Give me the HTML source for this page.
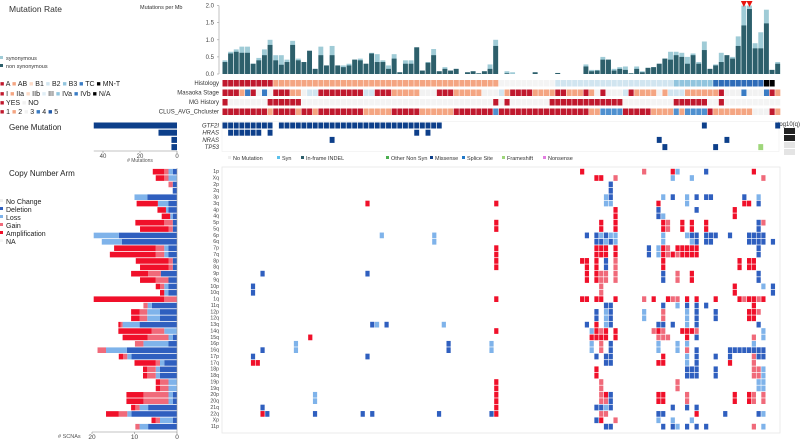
<!DOCTYPE html>
<html><head><meta charset="utf-8"><style>
html,body{margin:0;padding:0;background:#fff;}
svg{display:block;font-family:"Liberation Sans",sans-serif;}
</style></head><body>
<svg id="c" width="800" height="439" viewBox="0 0 800 439" xmlns="http://www.w3.org/2000/svg">
<g font-size="6" fill="#333">
<text x="9" y="12" font-size="8.5">Mutation Rate</text>
<text x="140" y="9" font-size="5.5">Mutations per Mb</text>
<rect x="0" y="56" width="3" height="3" fill="#9fcbd6"/>
<text x="6" y="60" font-size="5.5">synonymous</text>
<rect x="0" y="64" width="3" height="3" fill="#2d5f6b"/>
<text x="6" y="68" font-size="5.5">non synonymous</text>
</g>
<g font-size="7" fill="#222">
<text x="0" y="86"><tspan fill="#c0192e">■</tspan> A <tspan fill="#f4a582">■</tspan> AB <tspan fill="#fddbc7">■</tspan> B1 <tspan fill="#d1e5f0">■</tspan> B2 <tspan fill="#92c5de">■</tspan> B3 <tspan fill="#3a7cc4">■</tspan> TC <tspan fill="#000">■</tspan> MN-T</text>
<text x="0" y="96"><tspan fill="#c0192e">■</tspan> I <tspan fill="#f4a582">■</tspan> IIa <tspan fill="#fddbc7">■</tspan> IIb <tspan fill="#e0eef6">■</tspan> III <tspan fill="#92c5de">■</tspan> IVa <tspan fill="#3a7cc4">■</tspan> IVb <tspan fill="#000">■</tspan> N/A</text>
<text x="0" y="105"><tspan fill="#c0192e">■</tspan> YES <tspan fill="#f2f2f2">■</tspan> NO</text>
<text x="0" y="114"><tspan fill="#c0192e">■</tspan> 1 <tspan fill="#f4a582">■</tspan> 2 <tspan fill="#f2f2f2">■</tspan> 3 <tspan fill="#3a7cc4">■</tspan> 4 <tspan fill="#2159a8">■</tspan> 5</text>
<text x="9" y="130" font-size="8">Gene Mutation</text>
<text x="9" y="176" font-size="8">Copy Number Arm</text>
</g>
<g font-size="7" fill="#222">
<rect x="0" y="199" width="3" height="3" fill="#eee"/><text x="6" y="204">No Change</text>
<rect x="0" y="207" width="3" height="3" fill="#2f5fbf"/><text x="6" y="212">Deletion</text>
<rect x="0" y="215" width="3" height="3" fill="#7fb3ea"/><text x="6" y="220">Loss</text>
<rect x="0" y="223" width="3" height="3" fill="#f06a7a"/><text x="6" y="228">Gain</text>
<rect x="0" y="231" width="3" height="3" fill="#f0102a"/><text x="6" y="236">Amplification</text>
<rect x="0" y="239" width="3" height="3" fill="#f6f6f6"/><text x="6" y="244">NA</text>
</g>
<g font-size="5.5" fill="#333">
<rect x="228" y="156" width="3" height="3" fill="#eee"/><text x="233" y="160">No Mutation</text>
<rect x="277" y="156" width="3" height="3" fill="#5bc0eb"/><text x="282" y="160">Syn</text>
<rect x="301" y="156" width="3" height="3" fill="#2d5f6b"/><text x="306" y="160">In-frame INDEL</text>
<rect x="386" y="156" width="3" height="3" fill="#4caf50"/><text x="391" y="160">Other Non Syn</text>
<rect x="430" y="156" width="3" height="3" fill="#0d3f8a"/><text x="435" y="160">Missense</text>
<rect x="462" y="156" width="3" height="3" fill="#1f78c8"/><text x="467" y="160">Splice Site</text>
<rect x="502" y="156" width="3" height="3" fill="#9ed67a"/><text x="507" y="160">Frameshift</text>
<rect x="543" y="156" width="3" height="3" fill="#e27de0"/><text x="548" y="160">Nonsense</text>
</g>
<g>
<text x="776" y="126" font-size="6" fill="#333">-log10(q)</text>
<rect x="784" y="128" width="11" height="6" fill="#222"/>
<rect x="784" y="135" width="11" height="6" fill="#222"/>
<rect x="784" y="142" width="11" height="6" fill="#e4e4e4"/>
<rect x="784" y="149" width="11" height="6" fill="#e4e4e4"/>
</g>
<g id="dyn"></g>
</svg>
<script>
// ---- mutation rate data (per sample) ----
const nonSynRate=[.35,.6,.65,.62,.62,.3,.4,.55,.85,.4,.27,.35,.85,.4,.35,.68,.15,.55,.25,.55,.25,.2,.25,.42,.4,.3,.6,.35,.35,.15,.45,.05,.3,.3,.78,.1,.33,.55,.08,.15,.1,.15,0,.05,.08,.02,.08,.15,.82,0,.02,0,0,0,0,.05,0,0,0,.03,0,0,0,0,.22,.08,.1,.42,.42,.1,.15,.12,.02,.15,.05,.18,.2,.3,.45,.42,.55,.5,.3,.55,.3,.7,.15,.25,.35,.55,.45,.82,1.42,1.9,.75,.75,1.48,.12,.3];
const totalRate=[.4,.65,.72,.8,.8,.3,.47,.72,1,.55,.55,.42,.97,.45,.35,.68,.15,.8,.25,.82,.25,.25,.3,.42,.45,.3,.62,.58,.4,.25,.58,.05,.4,.4,.78,.1,.35,.73,.08,.2,.1,.15,0,.05,.08,.02,.08,.28,1,0,.08,.05,0,0,0,.05,0,0,0,.03,0,0,0,0,.28,.12,.12,.5,.42,.15,.2,.22,.02,.22,.08,.18,.2,.3,.45,.65,.65,.62,.5,.6,.35,.95,.15,.28,.62,.55,.5,1.1,2.0,2.0,.9,1.22,1.88,.12,.35];
const rateTicks=[0,0.5,1.0,1.5,2.0];
const markedSamples=[92,93];
// ---- clinical tracks ----
const histology="AAAAAAAAAMMMMMMMMMMMMMMMMMMMMMMMMMMMMMMMMMMMMMMMM11111111112222222222222222222223333333TTTTTTTTTKK".split("");
const masaoka="RRRSBRWBWRRRSSWLLRRRRRRRRLLRRRSSSSSWWWRRRSSSSSWWWLSRRRRSSSSRRSSSRSWRWWWLRSSSSWSLLLSSSSSSRWWWBWWWBRS".split("");
const mgHistory="YNNNNNNNYYYYYYNNNNNNNNNNNNNNNNNNNNNNNNNNNNNNNNNNYNYNNNNNNNYYYYYYYYYYYYYNNNNNNNNNYYYYYYNNYNNNNNNNNNN".split("");
const cluster="RRRRRRRRSRRRRSRRSRRRRRRRRSSSSSRRRRRSSSSSSRRRRRRRBRRRRRRRRRRRRRRRRSSBBBBRRRRRSSSSBSBBBBRSSSSSSSWWWRS".split("");
// ---- gene mutations ----
const genes=["GTF2I","HRAS","NRAS","TP53"];
const geneCounts=[45,10,3,3];
const gtf2iSamples=[0,1,2,3,4,5,6,7,8,10,11,12,13,14,15,16,17,18,19,20,21,22,23,24,25,26,27,28,29,30,31,32,33,34,35,36,37,38,85,98];
const hrasSamples=[1,2,3,4,5,6,8,34,36];
const nrasSamples=[19,77,89];
const tp53Samples=[78,87];
const tp53Frameshift=[95];
const geneTicks=[40,20,0];
// ---- copy number arms ----
const arms=["1p","Xq","2p","2q","3p","3q","4p","4q","5p","5q","6p","6q","7p","7q","8p","8q","9p","9q","10p","10q","1q","11q","12p","12q","13q","14q","15q","16p","16q","17p","17q","18p","18q","19p","19q","20p","20q","21q","22q","Xp","11p"];
const delCount=[1,0,1,1,7,2,2,1,1,1,13.7,13,2,2,1,1,3.8,2,2,2,0,5.9,4,4,8.8,0,1,2,11.8,10.7,3,4,4,0,0,1,1,6.8,10.7,1,6.8];
const lossCount=[1,2,0,0,3,2.5,.6,.6,0,0,5.9,4.7,1,1,0,0,0,0,1,1,0,1,3,3,4,3,1,5.9,4.9,1,1,1,1,2,2,1,1,2,1,3,2];
const gainCount=[1,1,1,0,0,0,0,0,2,1,0,0,2,2,1,1,3,3,1,0,3,1,1.8,1.8,.5,3,4.9,2,2,1,1,2,2,2,2,5.9,5.9,1,2,1,1];
const ampCount=[2.7,2,0,0,0,5,2,2,6.8,6.7,0,0,9.8,10.8,7.7,6.7,4,3.7,1,1,16.6,0,2,2,.5,7.8,5.9,0,0,1,5,1,1,1,1,4,4,1,3,1,0];
const scnaTicks=[20,10,0];
// heatmap cells [row, sample]
const delCells=[[0,101],[2,81],[3,81],[4,81],[4,94],[4,99],[4,101],[4,102],[4,109],[5,112],[6,91],[6,99],[7,91],[8,112],[9,112],[10,76],[10,78],[10,80],[10,98],[10,99],[10,101],[10,102],[10,103],[10,106],[10,110],[10,111],[10,112],[10,113],[11,78],[11,79],[11,81],[11,99],[11,101],[11,102],[11,110],[11,111],[11,112],[11,113],[11,115],[12,89],[12,112],[13,89],[13,112],[14,80],[15,80],[16,92],[16,112],[16,8],[16,30],[17,92],[17,112],[18,115],[18,6],[19,115],[19,6],[21,80],[21,81],[21,92],[21,97],[21,99],[21,101],[22,78],[22,81],[22,99],[22,103],[23,78],[23,81],[23,99],[23,103],[24,76],[24,81],[24,91],[24,92],[24,94],[24,99],[24,112],[24,31],[24,34],[26,99],[27,81],[27,47],[28,81],[28,99],[28,106],[28,107],[28,108],[28,109],[28,110],[28,111],[28,112],[28,113],[28,8],[28,47],[29,78],[29,80],[29,81],[29,99],[29,103],[29,106],[29,112],[29,113],[29,6],[29,30],[30,80],[30,81],[30,99],[31,97],[31,98],[31,99],[31,103],[32,97],[32,98],[32,99],[32,103],[35,81],[36,81],[37,78],[37,79],[37,81],[37,94],[37,97],[37,99],[37,8],[38,91],[38,92],[38,105],[38,112],[38,9],[38,19],[38,29],[38,31],[38,45],[38,56],[39,78],[40,80],[40,81],[40,92],[40,94],[40,97],[40,99],[40,101]];
const lossCells=[[0,95],[1,94],[1,98],[4,80],[4,92],[4,97],[4,112],[5,80],[5,81],[5,97],[7,92],[10,79],[10,81],[10,82],[10,92],[10,97],[10,33],[10,44],[11,80],[11,82],[11,92],[11,98],[11,44],[12,91],[13,91],[18,113],[21,95],[22,80],[22,88],[22,97],[23,80],[23,88],[23,97],[24,80],[24,97],[24,32],[24,46],[25,77],[25,113],[26,113],[27,77],[27,91],[27,95],[27,97],[27,111],[27,15],[27,56],[28,77],[28,91],[28,95],[28,15],[28,56],[29,97],[30,97],[31,113],[32,113],[33,112],[33,113],[34,112],[34,113],[35,19],[36,19],[37,80],[38,113],[39,91],[39,94],[39,98],[40,95],[40,113]];
const gainCells=[[0,88],[1,82],[1,113],[8,93],[8,113],[9,93],[12,93],[13,93],[13,95],[14,82],[15,82],[16,79],[16,80],[16,82],[16,95],[17,79],[17,80],[17,82],[17,95],[18,79],[19,79],[20,88],[20,94],[20,95],[20,109],[20,112],[22,92],[22,112],[23,92],[25,79],[25,90],[25,92],[25,99],[26,91],[26,92],[26,93],[26,111],[27,79],[28,79],[28,97],[29,111],[30,111],[31,111],[31,112],[32,111],[32,112],[33,79],[33,95],[34,79],[34,95],[35,79],[35,97],[35,111],[35,113],[36,79],[36,80],[36,97],[36,111],[36,113],[38,79],[38,80],[39,82],[40,111]];
const ampCells=[[0,75],[0,94],[0,111],[1,78],[1,79],[5,91],[5,109],[5,110],[5,30],[5,57],[6,82],[6,107],[7,82],[7,107],[8,79],[8,82],[8,92],[8,96],[8,98],[8,101],[8,57],[9,79],[9,82],[9,92],[9,96],[9,98],[9,101],[9,57],[12,78],[12,79],[12,80],[12,82],[12,92],[12,95],[12,96],[12,97],[12,98],[12,99],[12,57],[13,78],[13,79],[13,80],[13,82],[13,92],[13,94],[13,96],[13,97],[13,98],[13,99],[13,57],[14,75],[14,76],[14,78],[14,92],[14,108],[14,110],[14,111],[14,57],[15,76],[15,78],[15,92],[15,108],[15,110],[15,111],[15,57],[16,76],[16,78],[16,98],[17,76],[17,78],[17,98],[18,107],[19,107],[20,75],[20,76],[20,78],[20,79],[20,82],[20,90],[20,93],[20,97],[20,99],[20,103],[20,108],[20,110],[20,111],[20,113],[20,57],[21,111],[22,110],[22,111],[23,110],[23,111],[24,78],[25,78],[25,80],[25,82],[25,91],[25,96],[25,97],[25,98],[25,57],[26,77],[26,78],[26,79],[26,80],[26,82],[26,97],[26,18],[29,92],[30,91],[30,92],[30,106],[30,6],[30,7],[31,78],[32,78],[33,57],[34,57],[35,80],[35,91],[35,92],[35,107],[35,110],[35,57],[36,91],[36,92],[36,107],[36,110],[36,57],[37,57],[38,99],[38,8],[38,57],[39,79]];

const NS="http://www.w3.org/2000/svg";
const root=document.getElementById("dyn");
function mk(tag,attrs,parent){const e=document.createElementNS(NS,tag);for(const k in attrs)e.setAttribute(k,attrs[k]);(parent||root).appendChild(e);return e;}
function grp(name){const g=mk("g",{});return g;}

// scales
const sx=i=>222.5+i*5.64;          // sample -> x (top section)
const CW=4.9;
const ry=v=>74-v*34.2;             // rate -> y
const hx=i=>222+i*4.77;            // heatmap sample -> x
const hy=r=>168.5+r*6.375;         // arm row -> y
const cx=v=>177-v*4.25;            // SCNA count -> x
const gx=v=>177-v*1.85;            // gene count -> x

// mutation rate axis
const ax=grp("rate-y-axis");
mk("line",{x1:219,y1:ry(0),x2:219,y2:ry(2),stroke:"#999","stroke-width":.6},ax);
rateTicks.forEach(t=>{mk("line",{x1:217,x2:219,y1:ry(t),y2:ry(t),stroke:"#999","stroke-width":.6},ax);
 const tx=mk("text",{x:214,y:ry(t)+2,"font-size":6,"text-anchor":"end",fill:"#444"},ax);tx.textContent=t.toFixed(1);
 });
const bars=grp("mutation-rate-bars");
totalRate.forEach((v,i)=>{
 const b=mk("rect",{x:sx(i),y:ry(v),width:CW,height:ry(0)-ry(v),fill:"#9fcbd6"},bars);
 
 const n=nonSynRate[i];
 const d=mk("rect",{x:sx(i),y:ry(n),width:CW,height:ry(0)-ry(n),fill:"#2d5f6b"},bars);
 
});
markedSamples.forEach(i=>{const p=mk("path",{d:`M${sx(i)-0.5} 1 L${sx(i)+5.5} 1 L${sx(i)+2.5} 7 Z`,fill:"#e8140e"},bars);
 });

// clinical tracks
const palH={A:"#c0192e",M:"#f4a582","1":"#f4f4f4","2":"#d1e5f0","3":"#92c5de",T:"#2f6cb8",K:"#000"};
const palM={R:"#c0192e",S:"#f4a582",P:"#fddbc7",W:"#f2f2f2",L:"#d1e5f0",B:"#3a7cc4",K:"#000"};
const palY={Y:"#c0192e",N:"#f4f4f4"};
const palC={R:"#c0192e",S:"#f4a582",W:"#f2f2f2",B:"#4f90cf"};
const tracks=[["Histology",histology,palH,80],["Masaoka Stage",masaoka,palM,89.5],["MG History",mgHistory,palY,99],["CLUS_AVG_Chcluster",cluster,palC,108.5]];
tracks.forEach(([lab,arr,pal,y])=>{
 const g=grp("track-"+lab.toLowerCase().replace(/[^a-z]+/g,"-"));
 const t=mk("text",{x:219,y:y+5,"font-size":6,"text-anchor":"end",fill:"#333"},g);t.textContent=lab;
 
 arr.forEach((c,i)=>{const r=mk("rect",{x:sx(i),y:y,width:CW+0.2,height:6.5,fill:pal[c]||"#f2f2f2"},g);
  });
});

// gene mutation
const gg=grp("gene-mutation-panel");
mk("rect",{x:222,y:121.5,width:557,height:30,fill:"none",stroke:"#eee","stroke-width":.6},gg);
const geneRows=[gtf2iSamples,hrasSamples,nrasSamples,tp53Samples];
genes.forEach((gname,k)=>{
 const y=122.5+k*7.2;
 const t=mk("text",{x:219,y:y+5,"font-size":6,"text-anchor":"end","font-style":"italic",fill:"#333"},gg);t.textContent=gname;
 
 const b=mk("rect",{x:gx(geneCounts[k]),y:y,width:gx(0)-gx(geneCounts[k]),height:6,fill:"#0d3f8a"},gg);
 
 geneRows[k].forEach(i=>{const r=mk("rect",{x:sx(i),y:y,width:CW,height:6,fill:"#0d3f8a"},gg);
  });
});
tp53Frameshift.forEach(i=>{const r=mk("rect",{x:sx(i),y:122.5+3*7.2,width:CW,height:6,fill:"#9ed67a"},gg);
 });
mk("line",{x1:gx(45),x2:gx(0),y1:151,y2:151,stroke:"#888","stroke-width":.6},gg);
geneTicks.forEach(t=>{mk("line",{x1:gx(t),x2:gx(t),y1:151,y2:153,stroke:"#888","stroke-width":.6},gg);
 const tx=mk("text",{x:gx(t),y:158,"font-size":6,"text-anchor":"middle",fill:"#444"},gg);tx.textContent=t;
 });
const gl=mk("text",{x:140,y:162,"font-size":5,"text-anchor":"middle",fill:"#555"},gg);gl.textContent="# Mutations";


// SCNA bars
const sg=grp("scna-bar-chart");
arms.forEach((a,r)=>{
 let acc=0;const y=hy(r)+.4;
 [[delCount,"#2f5fbf"],[lossCount,"#7fb3ea"],[gainCount,"#f06a7a"],[ampCount,"#f0102a"]].forEach(([arr,col])=>{
  const v=arr[r];if(v>0){const b=mk("rect",{x:cx(acc+v),y:y,width:cx(acc)-cx(acc+v),height:5.6,fill:col},sg);
  }acc+=v;});
});
mk("line",{x1:cx(20),x2:cx(0),y1:432,y2:432,stroke:"#888","stroke-width":.6},sg);
mk("line",{x1:cx(0),x2:cx(0),y1:168,y2:432,stroke:"#999","stroke-width":.6},sg);
scnaTicks.forEach(t=>{mk("line",{x1:cx(t),x2:cx(t),y1:432,y2:434,stroke:"#888","stroke-width":.6},sg);
 const tx=mk("text",{x:cx(t),y:439,"font-size":6.5,"text-anchor":"middle",fill:"#444"},sg);tx.textContent=t;
 });
const st=mk("text",{x:58,y:438,"font-size":5.5,fill:"#555"},sg);st.textContent="# SCNAs";


// heatmap
const hg=grp("copy-number-heatmap");
mk("rect",{x:222,y:167,width:558,height:266,fill:"none",stroke:"#e6e6e6","stroke-width":.8},hg);
arms.forEach((a,r)=>{const t=mk("text",{x:219,y:hy(r)+4.6,"font-size":5.2,"text-anchor":"end",fill:"#444"},hg);t.textContent=a;
 });
[[delCells,"#2f5fbf","deletion-cell"],[lossCells,"#7fb3ea","loss-cell"],[gainCells,"#f06a7a","gain-cell"],[ampCells,"#f0102a","amplification-cell"]].forEach(([cells,col,nm])=>{
 cells.forEach(([r,i])=>{const c=mk("rect",{x:hx(i)+.3,y:hy(r)+.3,width:4.2,height:5.7,fill:col},hg);
  });
});
</script>
</body></html>
